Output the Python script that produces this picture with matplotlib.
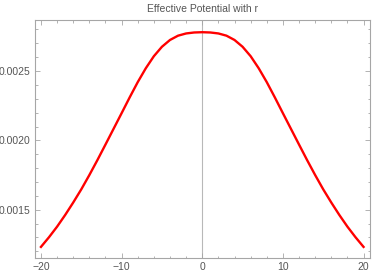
import matplotlib
matplotlib.use("Agg")
import matplotlib.pyplot as plt
from matplotlib.ticker import MultipleLocator, FormatStrFormatter

# values (curve is symmetric about r = 0)
r_vals = [-20, -19, -18, -17, -16, -15, -14, -13, -12, -11, -10,
          -9, -8, -7, -6, -5, -4, -3, -2, -1, 0,
          1, 2, 3, 4, 5, 6, 7, 8, 9, 10,
          11, 12, 13, 14, 15, 16, 17, 18, 19, 20]
v_eff = [0.001232, 0.001302, 0.001378, 0.001462, 0.001552, 0.001647, 0.001750,
         0.001858, 0.001970, 0.002083, 0.002196, 0.002310, 0.002420, 0.002520,
         0.002607, 0.002675, 0.002724, 0.002755, 0.002771, 0.002778, 0.002780,
         0.002778, 0.002771, 0.002755, 0.002724, 0.002675, 0.002607, 0.002520,
         0.002420, 0.002310, 0.002196, 0.002083, 0.001970, 0.001858, 0.001750,
         0.001647, 0.001552, 0.001462, 0.001378, 0.001302, 0.001232]

title = "Effective Potential with r"
frame_col = "#a6a6a6"
text_col = "#555555"

plt.rcParams['font.family'] = ['Liberation Sans', 'DejaVu Sans']

fig = plt.figure(figsize=(3.74, 2.77), dpi=100)
ax = fig.add_axes([34.5 / 374, 1 - 258 / 277, (370 - 34.5) / 374, (258 - 20) / 277])

ax.axvline(0, color="#b8b8b8", lw=0.8, zorder=1)
ax.plot(r_vals, v_eff, color="#ff0000", lw=1.7, zorder=3)

ax.set_xlim(-20.8, 20.8)
ax.set_ylim(0.001152, 0.002868)

ax.xaxis.set_major_locator(MultipleLocator(10))
ax.xaxis.set_minor_locator(MultipleLocator(2))
ax.yaxis.set_major_locator(MultipleLocator(0.0005))
ax.yaxis.set_minor_locator(MultipleLocator(0.0001))
ax.yaxis.set_major_formatter(FormatStrFormatter('%.4f'))

for s in ax.spines.values():
    s.set_color(frame_col)
    s.set_linewidth(0.8)

ax.tick_params(which='both', direction='in', top=True, right=True,
               color=frame_col, width=0.6, labelsize=7.5, labelcolor=text_col)
ax.tick_params(which='major', length=3.5, pad=3)
ax.tick_params(which='minor', length=1.8)

ax.set_title(title, fontsize=7.5, color=text_col, pad=6)

fig.savefig("out.png", dpi=100)
